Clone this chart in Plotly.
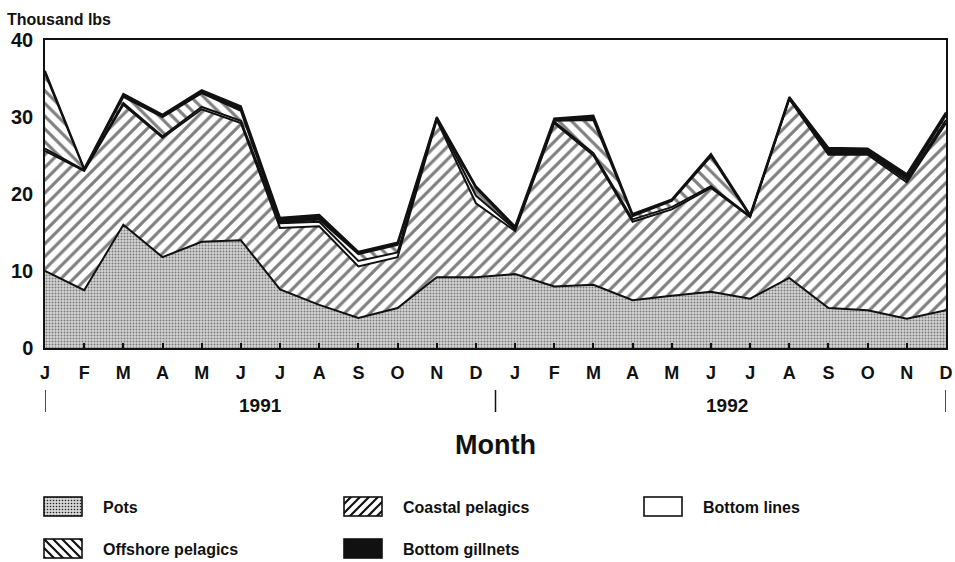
import base64

import plotly.graph_objects as go

# monthly landings, Jan 1991 - Dec 1992 (thousand lbs)
months = ["J", "F", "M", "A", "M", "J", "J", "A", "S", "O", "N", "D",
          "J", "F", "M", "A", "M", "J", "J", "A", "S", "O", "N", "D"]

pots = [10.0, 7.5, 16.0, 11.8, 13.8, 14.0, 7.6, 5.6, 3.9, 5.2, 9.2, 9.2,
        9.6, 8.0, 8.2, 6.2, 6.8, 7.3, 6.4, 9.1, 5.2, 4.9, 3.8, 4.9]
coastal_pelagics = [15.6, 15.5, 15.6, 15.5, 17.2, 15.2, 8.0, 10.2, 6.7, 6.6, 20.4, 9.6,
                    5.6, 21.2, 16.8, 10.2, 11.2, 13.5, 10.6, 23.2, 19.9, 20.2, 17.7, 24.3]
bottom_lines = [0.3, 0.1, 0.2, 0.2, 0.3, 0.3, 0.6, 0.6, 0.7, 0.6, 0.2, 1.0,
                0.2, 0.2, 0.3, 0.3, 0.3, 0.2, 0.1, 0.1, 0.2, 0.2, 0.3, 0.4]
offshore_pelagics = [9.8, 0.1, 0.8, 2.5, 1.8, 1.3, 0.0, 0.3, 0.9, 1.0, 0.0, 1.0,
                     0.1, 0.1, 4.3, 0.4, 0.8, 3.9, 0.0, 0.0, 0.0, 0.0, 0.3, 0.6]
bottom_gillnets = [0.3, 0.1, 0.4, 0.3, 0.4, 0.6, 0.7, 0.6, 0.3, 0.3, 0.2, 0.2,
                   0.3, 0.3, 0.6, 0.3, 0.2, 0.3, 0.2, 0.2, 0.7, 0.6, 0.5, 0.4]

years = ["1991", "1992"]
y_ticks = [0, 10, 20, 30, 40]

FONT = "Liberation Sans, Arial, sans-serif"
INK = "#111111"

# plot area in pixels (margins are fixed, automargin off)
W, H = 955, 562
L, R, T, B = 45, 9, 40, 214
PW, PH = W - L - R, H - T - B


def px(xp: float) -> float:
	return (xp - L) / PW


def py(yp: float) -> float:
	return (H - B - yp) / PH


def swatch(kind: str) -> str:
	# small svg legend box, returned as a data uri
	if kind == "dots":
		defs = ("<pattern id='p' width='3' height='3' patternUnits='userSpaceOnUse'>"
				"<rect width='3' height='3' fill='#d6d6d6'/><circle cx='1.5' cy='1.5' r='0.8' fill='#222'/></pattern>")
		fill = "url(#p)"
	elif kind == "fwd":
		defs = ("<pattern id='p' width='9' height='9' patternUnits='userSpaceOnUse'>"
				"<rect width='9' height='9' fill='white'/>"
				"<path d='M-1,10 L10,-1 M-2,2 L2,-2 M7,11 L11,7' stroke='#111' stroke-width='2.2'/></pattern>")
		fill = "url(#p)"
	elif kind == "back":
		defs = ("<pattern id='p' width='9' height='9' patternUnits='userSpaceOnUse'>"
				"<rect width='9' height='9' fill='white'/>"
				"<path d='M-1,-1 L10,10 M-2,7 L2,11 M7,-2 L11,2' stroke='#111' stroke-width='2.2'/></pattern>")
		fill = "url(#p)"
	elif kind == "black":
		defs = ""
		fill = "#111"
	else:
		defs = ""
		fill = "white"
	svg = ("<svg xmlns='http://www.w3.org/2000/svg' width='40' height='21' viewBox='0 0 40 21'>"
		   f"<defs>{defs}</defs>"
		   f"<rect x='1' y='1' width='38' height='19' fill='{fill}' stroke='#111' stroke-width='1.6'/></svg>")
	return "data:image/svg+xml;base64," + base64.b64encode(svg.encode()).decode()


x = list(range(len(months)))

fig = go.Figure()

# stacking order bottom -> top
layers = [
	("Pots", pots, dict(fillpattern=dict(shape=".", size=3, solidity=0.35, fgcolor="#222", bgcolor="#d4d4d4"))),
	("Coastal pelagics", coastal_pelagics, dict(fillpattern=dict(shape="/", size=9, solidity=0.35, fgcolor="#000", bgcolor="#ffffff"))),
	("Bottom lines", bottom_lines, dict(fillcolor="#ffffff")),
	("Offshore pelagics", offshore_pelagics, dict(fillpattern=dict(shape="\\", size=9, solidity=0.35, fgcolor="#000", bgcolor="#ffffff"))),
	("Bottom gillnets", bottom_gillnets, dict(fillcolor=INK)),
]

for name, vals, fill_style in layers:
	fig.add_trace(
		go.Scatter(
			x=x,
			y=vals,
			name=name,
			mode="lines",
			stackgroup="one",
			line=dict(color=INK, width=2),
			showlegend=False,
			hovertemplate=f"<b>{name}</b>: %{{y:.1f}}<extra></extra>",
			**fill_style,
		)
	)

# year labels and separators under the month letters
fig.add_annotation(x=5.5, y=py(405), xref="x", yref="paper", text=years[0], showarrow=False,
				   xanchor="center", yanchor="middle",
				   font=dict(family=FONT, size=19, color=INK, weight="bold"))
fig.add_annotation(x=17.4, y=py(405), xref="x", yref="paper", text=years[1], showarrow=False,
				   xanchor="center", yanchor="middle",
				   font=dict(family=FONT, size=19, color=INK, weight="bold"))
for sep in [0, 11.5, 23]:
	fig.add_shape(type="line", x0=sep, x1=sep, y0=py(390), y1=py(412), xref="x", yref="paper",
				  line=dict(color=INK, width=1.5))

fig.add_annotation(x=px(495), y=py(445), xref="paper", yref="paper", text="Month", showarrow=False,
				   xanchor="center", yanchor="middle",
				   font=dict(family=FONT, size=27, color=INK, weight="bold"))
fig.add_annotation(x=px(5), y=py(19), xref="paper", yref="paper", text="Thousand lbs", showarrow=False,
				   xanchor="left", yanchor="middle",
				   font=dict(family=FONT, size=16, color=INK, weight="bold"))

# legend: boxes + labels, three columns
legend_items = [
	("Pots", "dots", 43, 496),
	("Coastal pelagics", "fwd", 343, 496),
	("Bottom lines", "white", 643, 496),
	("Offshore pelagics", "back", 43, 538),
	("Bottom gillnets", "black", 343, 538),
]
for label, kind, lx, ly in legend_items:
	fig.add_layout_image(
		source=swatch(kind), xref="paper", yref="paper",
		x=px(lx), y=py(ly), sizex=40 / PW, sizey=21 / PH,
		xanchor="left", yanchor="top", sizing="stretch", layer="above",
	)
	fig.add_annotation(x=px(lx + 58), y=py(ly + 11), xref="paper", yref="paper", text=label,
					   showarrow=False, xanchor="left", yanchor="middle",
					   font=dict(family=FONT, size=16, color=INK, weight="bold"))

fig.update_layout(
	width=W,
	height=H,
	margin=dict(l=L, r=R, t=T, b=B),
	paper_bgcolor="white",
	plot_bgcolor="white",
	showlegend=False,
	xaxis=dict(
		range=[0, 23],
		tickvals=x,
		ticktext=months,
		ticks="inside",
		ticklen=5,
		tickwidth=1.5,
		tickcolor=INK,
		ticklabelstandoff=8,
		showgrid=False,
		zeroline=False,
		showline=True,
		linecolor=INK,
		linewidth=1.5,
		mirror=True,
		automargin=False,
		tickfont=dict(family=FONT, size=18, color=INK, weight="bold"),
	),
	yaxis=dict(
		range=[0, 40],
		tickvals=y_ticks,
		showgrid=False,
		zeroline=False,
		showline=True,
		linecolor=INK,
		linewidth=1.5,
		mirror=True,
		ticks="",
		ticklabelstandoff=6,
		automargin=False,
		tickfont=dict(family=FONT, size=20, color=INK, weight="bold"),
	),
)

# drop the default body margin so the figure sits at the page corner
fig.write_html(
	"out.html",
	config={"displayModeBar": False},
	post_script="document.body.style.margin='0px';",
)
